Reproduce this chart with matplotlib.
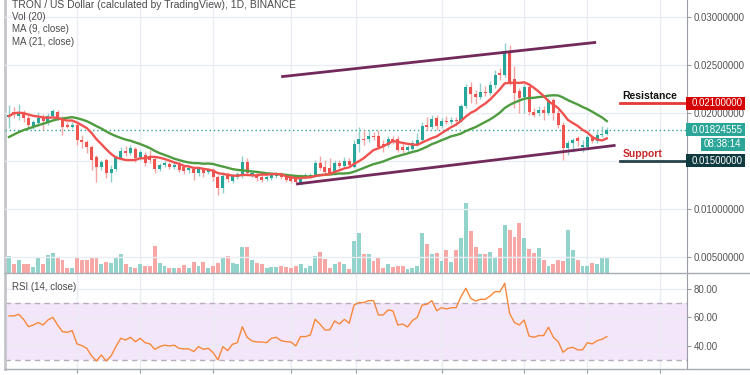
import matplotlib.pyplot as plt
import matplotlib.transforms as mtransforms
from matplotlib.patches import Rectangle
from matplotlib.lines import Line2D
import pandas as pd

plt.rcParams['font.family'] = ['Liberation Sans', 'DejaVu Sans']

# TRX/USD daily candles (Binance), oldest first
opens = [0.01958, 0.02010, 0.01969, 0.02010, 0.01948, 0.01865, 0.01896, 0.01948, 0.01896, 0.01969,
         0.02010, 0.01948, 0.01875, 0.01854, 0.01875, 0.01719, 0.01698, 0.01646, 0.01542, 0.01437,
         0.01510, 0.01375, 0.01417, 0.01531, 0.01604, 0.01583, 0.01625, 0.01542, 0.01562, 0.01531,
         0.01521, 0.01417, 0.01458, 0.01469, 0.01437, 0.01469, 0.01437, 0.01406, 0.01417, 0.01375,
         0.01417, 0.01385, 0.01406, 0.01333, 0.01219, 0.01354, 0.01292, 0.01333, 0.01344, 0.01490,
         0.01354, 0.01354, 0.01333, 0.01312, 0.01323, 0.01344, 0.01365, 0.01333, 0.01323, 0.01323,
         0.01271, 0.01333, 0.01344, 0.01344, 0.01479, 0.01437, 0.01427, 0.01375, 0.01479, 0.01448,
         0.01500, 0.01437, 0.01677, 0.01729, 0.01729, 0.01760, 0.01760, 0.01677, 0.01667, 0.01729,
         0.01729, 0.01646, 0.01615, 0.01625, 0.01667, 0.01719, 0.01875, 0.01854, 0.01948, 0.01865,
         0.01917, 0.01906, 0.01927, 0.01917, 0.02073, 0.02271, 0.02198, 0.02167, 0.02219, 0.02208,
         0.02292, 0.02417, 0.02396, 0.02635, 0.02354, 0.02229, 0.02167, 0.02271, 0.02010, 0.02000,
         0.02031, 0.02000, 0.02135, 0.02000, 0.01875, 0.01635, 0.01687, 0.01740, 0.01646, 0.01646,
         0.01750, 0.01708, 0.01771, 0.01781]
highs = [0.02083, 0.02062, 0.02094, 0.02031, 0.01979, 0.01927, 0.02010, 0.01990, 0.02000, 0.02042,
         0.02031, 0.01969, 0.01906, 0.01906, 0.01906, 0.01771, 0.01719, 0.01667, 0.01562, 0.01510,
         0.01531, 0.01458, 0.01562, 0.01646, 0.01656, 0.01667, 0.01646, 0.01615, 0.01594, 0.01615,
         0.01542, 0.01479, 0.01500, 0.01490, 0.01479, 0.01490, 0.01458, 0.01448, 0.01437, 0.01437,
         0.01427, 0.01427, 0.01427, 0.01354, 0.01385, 0.01385, 0.01365, 0.01385, 0.01552, 0.01531,
         0.01396, 0.01385, 0.01354, 0.01354, 0.01375, 0.01385, 0.01385, 0.01354, 0.01344, 0.01344,
         0.01365, 0.01375, 0.01375, 0.01510, 0.01552, 0.01510, 0.01531, 0.01510, 0.01510, 0.01542,
         0.01531, 0.01719, 0.01854, 0.01823, 0.01823, 0.01802, 0.01823, 0.01719, 0.01760, 0.01760,
         0.01760, 0.01677, 0.01667, 0.01719, 0.01792, 0.01906, 0.01958, 0.01979, 0.01979, 0.01948,
         0.01969, 0.01958, 0.01958, 0.02094, 0.02302, 0.02323, 0.02240, 0.02312, 0.02281, 0.02333,
         0.02448, 0.02469, 0.02729, 0.02708, 0.02490, 0.02260, 0.02302, 0.02292, 0.02052, 0.02073,
         0.02073, 0.02156, 0.02156, 0.02031, 0.01906, 0.01719, 0.01740, 0.01760, 0.01719, 0.01771,
         0.01771, 0.01823, 0.01865, 0.01854]
lows = [0.01844, 0.01948, 0.01927, 0.01906, 0.01844, 0.01833, 0.01865, 0.01823, 0.01875, 0.01948,
        0.01927, 0.01771, 0.01844, 0.01844, 0.01667, 0.01635, 0.01583, 0.01406, 0.01281, 0.01406,
        0.01323, 0.01281, 0.01396, 0.01510, 0.01552, 0.01562, 0.01490, 0.01510, 0.01448, 0.01479,
        0.01375, 0.01396, 0.01437, 0.01417, 0.01417, 0.01385, 0.01365, 0.01375, 0.01302, 0.01344,
        0.01333, 0.01365, 0.01292, 0.01146, 0.01167, 0.01281, 0.01271, 0.01312, 0.01323, 0.01354,
        0.01333, 0.01292, 0.01281, 0.01292, 0.01302, 0.01323, 0.01312, 0.01281, 0.01271, 0.01250,
        0.01250, 0.01312, 0.01323, 0.01333, 0.01406, 0.01365, 0.01354, 0.01354, 0.01427, 0.01427,
        0.01437, 0.01427, 0.01594, 0.01667, 0.01698, 0.01719, 0.01635, 0.01594, 0.01646, 0.01677,
        0.01594, 0.01583, 0.01594, 0.01615, 0.01656, 0.01698, 0.01823, 0.01833, 0.01823, 0.01844,
        0.01885, 0.01885, 0.01875, 0.01906, 0.02052, 0.02104, 0.02094, 0.02146, 0.02177, 0.02187,
        0.02260, 0.02344, 0.02375, 0.02292, 0.02052, 0.02000, 0.02000, 0.01979, 0.01958, 0.01969,
        0.01927, 0.01979, 0.01927, 0.01844, 0.01510, 0.01562, 0.01594, 0.01656, 0.01594, 0.01615,
        0.01687, 0.01687, 0.01750, 0.01771]
closes = [0.01979, 0.01990, 0.02010, 0.01948, 0.01875, 0.01906, 0.01948, 0.01917, 0.01969, 0.02021,
          0.01948, 0.01854, 0.01854, 0.01875, 0.01719, 0.01698, 0.01646, 0.01510, 0.01437, 0.01490,
          0.01375, 0.01417, 0.01531, 0.01604, 0.01583, 0.01635, 0.01531, 0.01594, 0.01479, 0.01510,
          0.01417, 0.01458, 0.01479, 0.01437, 0.01458, 0.01406, 0.01396, 0.01427, 0.01375, 0.01417,
          0.01375, 0.01406, 0.01333, 0.01219, 0.01344, 0.01312, 0.01344, 0.01365, 0.01490, 0.01375,
          0.01375, 0.01323, 0.01302, 0.01333, 0.01354, 0.01365, 0.01333, 0.01302, 0.01292, 0.01281,
          0.01333, 0.01354, 0.01354, 0.01479, 0.01427, 0.01385, 0.01375, 0.01479, 0.01448, 0.01500,
          0.01458, 0.01677, 0.01729, 0.01719, 0.01760, 0.01750, 0.01646, 0.01646, 0.01729, 0.01708,
          0.01615, 0.01615, 0.01646, 0.01687, 0.01719, 0.01865, 0.01854, 0.01937, 0.01865, 0.01917,
          0.01906, 0.01927, 0.01917, 0.02073, 0.02271, 0.02198, 0.02167, 0.02219, 0.02208, 0.02292,
          0.02396, 0.02396, 0.02635, 0.02312, 0.02208, 0.02156, 0.02271, 0.02010, 0.01979, 0.02031,
          0.02000, 0.02135, 0.02000, 0.01875, 0.01635, 0.01687, 0.01719, 0.01708, 0.01667, 0.01750,
          0.01708, 0.01771, 0.01781, 0.01824555]
# closes of the 20 days before the visible window (only used by the moving averages)
earlier_closes = [0.01458, 0.01479, 0.01500, 0.01531, 0.01552, 0.01583, 0.01604, 0.01625, 0.01646, 0.01667,
                  0.01687, 0.01708, 0.01729, 0.01948, 0.01990, 0.02010, 0.02031, 0.02010, 0.02000, 0.02010]
# daily volume, million TRX
volumes = [510, 280, 400, 280, 280, 180, 460, 260, 530, 610,
           480, 400, 160, 140, 460, 400, 400, 440, 470, 280,
           330, 310, 470, 580, 260, 180, 160, 280, 210, 210,
           820, 300, 200, 140, 160, 160, 230, 140, 330, 200,
           330, 140, 200, 310, 460, 520, 300, 260, 780, 780,
           400, 300, 260, 140, 180, 180, 200, 180, 140, 220,
           260, 140, 200, 510, 620, 410, 160, 280, 320, 280,
           120, 950, 1190, 560, 580, 360, 460, 160, 260, 180,
           200, 200, 120, 140, 200, 1210, 860, 560, 610, 360,
           680, 320, 680, 1040, 2100, 1260, 780, 560, 560, 620,
           480, 750, 1440, 1300, 1080, 1500, 1040, 710, 610, 740,
           400, 210, 260, 380, 360, 1280, 680, 380, 220, 220,
           300, 280, 450, 480]
rsi = [61.1, 61.1, 62.2, 58.7, 53.5, 54.7, 56.4, 54.7, 58.2, 60.1,
       54.7, 50.0, 49.5, 50.7, 41.3, 40.1, 38.2, 32.8, 29.3, 33.5,
       29.3, 32.8, 39.4, 45.3, 44.1, 46.0, 42.9, 45.3, 42.2, 41.3,
       37.5, 39.4, 40.4, 39.9, 40.4, 38.2, 37.8, 37.8, 35.9, 39.4,
       37.5, 38.2, 35.2, 30.0, 39.4, 36.6, 41.1, 42.2, 53.5, 46.0,
       43.4, 42.7, 42.7, 42.2, 45.3, 46.0, 43.6, 42.9, 42.7, 39.9,
       46.5, 46.5, 47.6, 58.7, 55.2, 51.2, 51.2, 57.5, 55.4, 58.7,
       55.9, 68.8, 70.5, 70.5, 71.9, 71.9, 61.8, 61.8, 65.3, 64.6,
       54.7, 55.4, 53.3, 57.8, 60.1, 68.8, 69.3, 71.9, 64.8, 66.9,
       66.0, 66.9, 66.9, 74.7, 80.6, 73.5, 71.6, 72.8, 72.8, 75.2,
       78.2, 78.2, 84.1, 62.9, 56.4, 54.7, 58.2, 46.9, 46.0, 47.2,
       47.2, 53.1, 46.0, 42.9, 35.4, 38.2, 38.9, 37.1, 37.1, 42.2,
       41.3, 43.6, 44.6, 46.5]

date_ticks = [14, 27, 42, 58, 71.5, 89, 106, 119, 134]   # candle index of the date grid lines
channel_top_x, channel_top_y = [56.0, 120.8], [0.02378, 0.02736]
channel_bot_x, channel_bot_y = [59.1, 124.8], [0.01260, 0.01663]
resistance = 0.021
support = 0.015
last_price = 0.01824555
countdown = '08:38:14'
price_ticks = [0.005, 0.010, 0.015, 0.020, 0.025, 0.030]
rsi_ticks = [40, 60, 80]

UP, DOWN = '#26a69a', '#ef5350'
GRID = '#e9edf3'
AXC = '#9a9da6'
TXT = '#4b4b4b'

n = len(closes)
x = list(range(n))
up = [c >= o for o, c in zip(opens, closes)]

allc = pd.Series(earlier_closes + closes)
ma9 = allc.rolling(9).mean().iloc[len(earlier_closes):].values
ma21 = allc.rolling(21).mean().iloc[len(earlier_closes):].values

W, H = 750, 375
fig = plt.figure(figsize=(W / 100, H / 100), dpi=100)
ax_vol = fig.add_axes([5 / W, 1 - 273 / H, 682 / W, 273 / H])
ax = ax_vol.twinx()
ax_rsi = fig.add_axes([5 / W, 6 / H, 682 / W, 96 / H], sharex=ax_vol)

# volume
ax_vol.bar(x, volumes, width=0.8, color=['#92d3cb' if u else '#f7a8a6' for u in up], zorder=1)
ax_vol.set_ylim(0, 8190)
ax_vol.set_xlim(-0.82, 139.5)
ax_vol.set_yticks([])
ax_vol.set_xticks(date_ticks)
ax_vol.tick_params(axis='x', length=0, labelbottom=False)
ax_vol.grid(axis='x', color=GRID, lw=1)
ax_vol.set_axisbelow(True)

# candles
ax.vlines(x, lows, highs, colors=['#8fcfc8' if u else '#f4a4a2' for u in up], lw=1, zorder=3)
ax.bar(x, [c - o for o, c in zip(opens, closes)], bottom=opens, width=0.62,
       color=[UP if u else DOWN for u in up], zorder=4)
ax.plot(x, ma21, color='#4e9c3f', lw=1.7, zorder=5)
ax.plot(x, ma9, color='#f0524f', lw=1.7, zorder=6)
ax.plot(channel_top_x, channel_top_y, color='#722a5a', lw=2, zorder=7, solid_capstyle='butt')
ax.plot(channel_bot_x, channel_bot_y, color='#722a5a', lw=2, zorder=7, solid_capstyle='butt')
ax.axhline(last_price, color=UP, lw=1, ls=(0, (1, 2)), zorder=2)
ax.set_ylim(0.003332, 0.03177)
ax.set_yticks(price_ticks)
# the 0.015 label sits under the support tag
ax.set_yticklabels(['' if p == support else f'{p:.8f}' for p in price_ticks])
ax.tick_params(axis='y', length=3, pad=2, color=AXC, labelsize=7, labelcolor='#555555')
ax.grid(axis='y', color=GRID, lw=1)
ax.set_axisbelow(True)

for a in (ax_vol, ax):
    for s in a.spines.values():
        s.set_visible(False)
ax.spines['right'].set_visible(True)
ax.spines['right'].set_color(AXC)
ax_vol.spines['left'].set_visible(True)
ax_vol.spines['left'].set_color('#c3c5cb')
ax_vol.spines['left'].set_linewidth(2)

# support / resistance annotations
bt = mtransforms.blended_transform_factory(ax.transAxes, ax.transData)
ax.axhline(resistance, xmin=0.902, xmax=0.997, color='#e53935', lw=2, zorder=7)
ax.axhline(support, xmin=0.902, xmax=0.998, color='#26424b', lw=2, zorder=7)
ax.annotate('Resistance', (0.9057, resistance), xycoords=bt, xytext=(0, 5.3), textcoords='offset points',
            va='center', ha='left', fontsize=7.5, fontweight='bold', color='#111111', annotation_clip=False)
ax.annotate('Support', (0.9057, support), xycoords=bt, xytext=(0, 5), textcoords='offset points',
            va='center', ha='left', fontsize=7.5, fontweight='bold', color='#c62828', annotation_clip=False)

box_h = 13 / 9600
for price, fc in ((resistance, '#d50000'), (last_price, '#2aa597'), (support, '#0f3a40')):
    ax.add_patch(Rectangle((0.9985, price - box_h / 2), 0.0865, box_h, transform=bt,
                           facecolor=fc, edgecolor='none', clip_on=False, zorder=8))
    ax.text(1.0065, price, f'{price:.8f}', transform=bt, va='center', ha='left',
            fontsize=7, color='white', clip_on=False, zorder=9)
t_y = last_price - 14.3 / 9600
ax.add_patch(Rectangle((1.0205, t_y - box_h / 2), 0.0645, box_h, transform=bt,
                       facecolor='#2aa597', edgecolor='none', clip_on=False, zorder=8))
ax.text(1.0525, t_y, countdown, transform=bt, va='center', ha='center',
        fontsize=7, color='white', clip_on=False, zorder=9)

# RSI pane
ax_rsi.axhspan(30, 70, color='#f3e6fb', lw=0, zorder=0)
ax_rsi.axhline(70, color='#b9abc0', lw=1, ls=(0, (4, 3)), zorder=1)
ax_rsi.axhline(30, color='#b9abc0', lw=1, ls=(0, (4, 3)), zorder=1)
ax_rsi.plot(x, rsi, color='#f7883a', lw=1, zorder=3)
ax_rsi.set_ylim(23.6, 91.4)
ax_rsi.yaxis.tick_right()
ax_rsi.set_yticks(rsi_ticks)
ax_rsi.set_yticklabels([f'{v:.2f}' for v in rsi_ticks])
ax_rsi.tick_params(axis='y', length=3, pad=2, color=AXC, labelsize=7, labelcolor='#555555')
ax_rsi.tick_params(axis='x', length=3, color=AXC, labelbottom=False)
ax_rsi.grid(True, color=GRID, lw=1, zorder=0)
ax_rsi.set_axisbelow(True)
for s in ('top', 'right', 'left', 'bottom'):
    ax_rsi.spines[s].set_visible(False)
ax_rsi.spines['right'].set_visible(True)
ax_rsi.spines['right'].set_color(AXC)
ax_rsi.spines['left'].set_visible(True)
ax_rsi.spines['left'].set_color('#c3c5cb')
ax_rsi.spines['left'].set_linewidth(2)

# pane separators
for yy in (273, 369):
    fig.add_artist(Line2D([5 / W, 1], [1 - yy / H] * 2, color='#a7aab2', lw=1))

# legends
fig.text(12 / W, 1 - 5.5 / H, 'TRON / US Dollar (calculated by TradingView), 1D, BINANCE',
         va='center', fontsize=7.5, color=TXT)
fig.text(12 / W, 1 - 16.5 / H, 'Vol (20)', va='center', fontsize=7, color=TXT)
fig.text(12 / W, 1 - 29 / H, 'MA (9, close)', va='center', fontsize=7, color=TXT)
fig.text(12 / W, 1 - 42.3 / H, 'MA (21, close)', va='center', fontsize=7, color=TXT)
fig.text(12 / W, 1 - 287 / H, 'RSI (14, close)', va='center', fontsize=7, color=TXT)

fig.savefig('out.png', dpi=100)
